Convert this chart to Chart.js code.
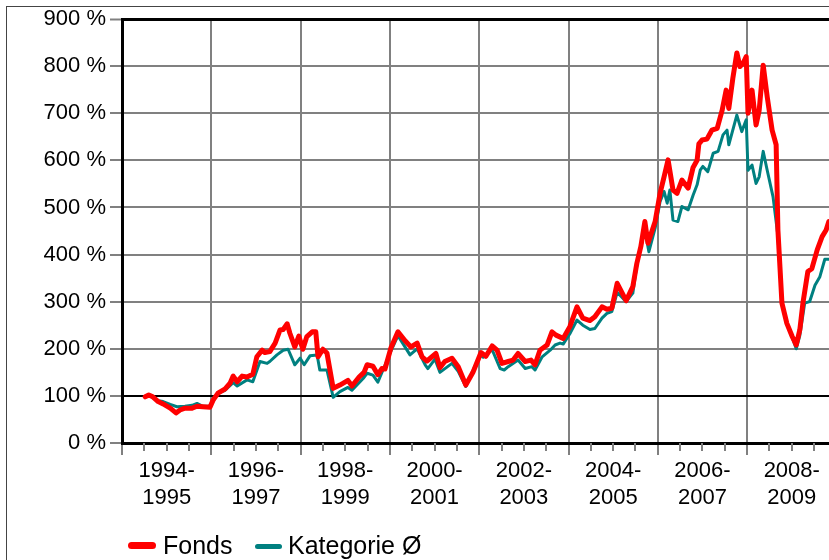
<!DOCTYPE html>
<html>
<head>
<meta charset="utf-8">
<script src="https://cdn.jsdelivr.net/npm/chart.js@4/dist/chart.umd.min.js"></script>
<style>
  html, body { margin: 0; padding: 0; background: #fff; overflow: hidden; }
  #wrap { position: relative; width: 829px; height: 560px; overflow: hidden; }
  #frame { position: absolute; left: 6px; top: 6px; width: 1000px; height: 1000px; border: 1px solid #444; box-sizing: border-box; }
  #c { position: absolute; left: 0; top: 0; }
  .leg { position: absolute; top: 0; left: 0; font-family: Arial, "Liberation Sans", sans-serif; font-size: 25px; color: #000; }
  .sw { position: absolute; }
  .lt { position: absolute; white-space: nowrap; line-height: 25px; }
</style>
</head>
<body>
<div id="wrap">
  <div id="frame"></div>
  <canvas id="c" width="829" height="560"></canvas>
  <div class="leg">
    <div class="sw" style="left:128px;top:542px;width:28px;height:7px;border-radius:4px;background:#ff0000"></div>
    <div class="lt" style="left:163px;top:533px">Fonds</div>
    <div class="sw" style="left:255px;top:543.5px;width:27px;height:5px;border-radius:3px;background:#008080"></div>
    <div class="lt" style="left:288px;top:533px">Kategorie Ø</div>
  </div>
</div>
<script>
// ---- Data ----
const seriesNames = ['Fonds', 'Kategorie Ø'];

const fondsYears = [1994.52,1994.60,1994.69,1994.81,1994.92,1995.08,1995.21,1995.30,1995.41,1995.57,1995.68,1995.81,1995.97,
  1996.04,1996.15,1996.31,1996.42,1996.49,1996.58,1996.69,1996.80,1996.93,1997.02,1997.14,1997.20,1997.31,1997.43,1997.54,
  1997.61,1997.70,1997.76,1997.87,1997.96,1998.05,1998.14,1998.26,1998.34,1998.39,1998.50,1998.59,1998.73,1998.88,1999.06,
  1999.15,1999.31,1999.42,1999.49,1999.62,1999.73,1999.82,1999.89,2000.02,2000.18,2000.34,2000.47,2000.61,2000.72,2000.83,
  2001.03,2001.12,2001.23,2001.39,2001.53,2001.70,2001.86,2002.04,2002.15,2002.29,2002.40,2002.51,2002.65,2002.76,2002.87,
  2003.03,2003.16,2003.25,2003.36,2003.52,2003.63,2003.72,2003.88,2004.03,2004.19,2004.32,2004.48,2004.59,2004.75,2004.86,
  2004.97,2005.09,2005.29,2005.44,2005.53,2005.62,2005.71,2005.78,2005.94,2006.05,2006.14,2006.23,2006.34,2006.43,2006.54,
  2006.68,2006.79,2006.88,2006.92,2006.99,2007.10,2007.21,2007.33,2007.44,2007.53,2007.59,2007.68,2007.77,2007.84,2007.91,
  2007.98,2008.02,2008.11,2008.20,2008.27,2008.36,2008.45,2008.56,2008.65,2008.69,2008.78,2008.89,2009.01,2009.10,2009.18,
  2009.25,2009.36,2009.45,2009.57,2009.68,2009.77,2009.83];
const fondsValues = [98,102,98,88,83,74,64,70,74,74,78,77,76,
  91,106,115,127,142,130,142,140,146,183,197,192,194,212,240,
  241,253,233,204,227,199,226,236,236,183,199,191,116,123,133,
  121,140,150,166,163,145,158,157,201,236,217,204,212,183,174,
  190,160,173,180,162,123,150,192,184,206,197,169,173,176,190,
  173,176,166,197,208,236,229,222,247,289,265,260,268,289,284,
  286,339,302,332,381,417,470,424,470,530,565,601,537,530,558,
  541,585,600,635,643,645,664,668,706,749,710,774,828,799,806,
  820,700,749,675,706,802,735,664,633,452,297,254,226,208,240,
  297,364,370,410,438,452,470];

const kategorieYears = [1994.52,1994.60,1994.81,1994.92,1995.08,1995.23,1995.41,1995.57,1995.68,1995.81,1995.97,
  1996.15,1996.31,1996.49,1996.58,1996.80,1996.93,1997.09,1997.25,1997.31,1997.47,1997.61,1997.72,1997.87,1997.99,
  1998.08,1998.21,1998.37,1998.43,1998.59,1998.73,1998.88,1999.06,1999.15,1999.40,1999.49,1999.62,1999.73,2000.00,
  2000.18,2000.45,2000.61,2000.79,2000.85,2001.01,2001.12,2001.39,2001.53,2001.70,2002.02,2002.09,2002.29,2002.47,
  2002.56,2002.65,2002.87,2003.03,2003.18,2003.25,2003.41,2003.59,2003.70,2003.81,2003.88,2004.03,2004.19,2004.32,
  2004.48,2004.59,2004.75,2004.86,2004.97,2005.09,2005.29,2005.44,2005.53,2005.71,2005.80,2005.94,2006.05,2006.14,
  2006.21,2006.27,2006.34,2006.45,2006.54,2006.68,2006.79,2006.88,2006.95,2007.01,2007.12,2007.24,2007.35,2007.46,
  2007.55,2007.59,2007.77,2007.88,2007.98,2008.02,2008.11,2008.20,2008.27,2008.36,2008.45,2008.58,2008.69,2008.78,
  2008.89,2009.01,2009.10,2009.18,2009.29,2009.40,2009.52,2009.63,2009.74,2009.83];
const kategorieValues = [98,101,90,88,82,77,78,80,84,78,78,
  106,112,128,121,134,130,173,169,173,187,197,199,166,180,
  166,185,187,155,155,97,109,118,112,137,148,144,129,190,
  228,187,200,166,158,178,150,169,152,120,187,182,198,158,
  155,162,176,158,162,155,183,197,208,212,210,232,261,250,
  241,243,265,275,279,320,300,318,378,452,406,456,512,534,
  509,537,473,470,502,495,526,548,579,587,576,615,619,654,
  664,633,696,661,686,579,590,551,565,619,579,523,440,295,
  252,224,200,228,297,300,335,353,390,390];

const periodLabels = [['1994-','1995'],['1996-','1997'],['1998-','1999'],['2000-','2001'],
  ['2002-','2003'],['2004-','2005'],['2006-','2007'],['2008-','2009']];
const firstYear = 1994;
const yTicks = [0,100,200,300,400,500,600,700,800,900];

// ---- Chart ----
const FONT = 'Arial, "Liberation Sans", sans-serif';
const GRID = '#808080';
const xMax = 2009.834;

function isMajor(v){ return Math.abs(v - Math.round(v)) < 1e-6 && Math.round(v) % 2 === 0; }

const minorTicks = {
  id: 'minorTicks',
  afterDraw(chart) {
    const sx = chart.scales.x, ctx = chart.ctx;
    const y0 = chart.chartArea.bottom;
    ctx.save();
    ctx.strokeStyle = GRID;
    ctx.lineWidth = 2;
    sx.ticks.forEach(t => {
      if (isMajor(t.value)) return;
      const px = Math.round(sx.getPixelForValue(t.value));
      ctx.beginPath();
      ctx.moveTo(px, y0);
      ctx.lineTo(px, y0 + 8);
      ctx.stroke();
    });
    ctx.restore();
  }
};

new Chart(document.getElementById('c'), {
  type: 'line',
  data: {
    datasets: [
      {
        label: seriesNames[0],
        data: fondsYears.map((t, i) => ({ x: t, y: fondsValues[i] })),
        borderColor: '#ff0000',
        borderWidth: 5,
        pointRadius: 0,
        tension: 0,
        borderJoinStyle: 'round',
        borderCapStyle: 'round'
      },
      {
        label: seriesNames[1],
        data: kategorieYears.map((t, i) => ({ x: t, y: kategorieValues[i] })),
        borderColor: '#008080',
        borderWidth: 3,
        pointRadius: 0,
        tension: 0,
        borderJoinStyle: 'round',
        borderCapStyle: 'round'
      }
    ]
  },
  options: {
    responsive: false,
    devicePixelRatio: 1,
    animation: false,
    layout: { padding: { top: 19, left: 0, right: 0, bottom: 47 } },
    plugins: { legend: { display: false }, tooltip: { enabled: false } },
    scales: {
      x: {
        type: 'linear',
        min: firstYear,
        max: xMax,
        afterBuildTicks(scale) {
          const arr = [];
          for (let v = firstYear; v < xMax; v += 0.5) arr.push({ value: v });
          scale.ticks = arr;
        },
        afterFit(scale) { scale.height = 70; },
        border: { display: true, color: '#000', width: 3 },
        grid: {
          color: ctx => (ctx.tick && isMajor(ctx.tick.value) && ctx.tick.value > firstYear) ? GRID : 'rgba(0,0,0,0)',
          lineWidth: 2,
          tickColor: ctx => (ctx.tick && isMajor(ctx.tick.value)) ? GRID : 'rgba(0,0,0,0)',
          tickLength: 12,
          tickWidth: 2
        },
        ticks: {
          autoSkip: false,
          maxRotation: 0,
          minRotation: 0,
          padding: 3,
          color: '#000',
          font: { family: FONT, size: 22 },
          callback(value) {
            const d = value - firstYear;
            if (Math.abs(d - Math.round(d)) < 1e-6 && Math.round(d) % 2 === 1) {
              const idx = (Math.round(d) - 1) / 2;
              return periodLabels[idx] || '';
            }
            return '';
          }
        }
      },
      y: {
        min: 0,
        max: 900,
        afterBuildTicks(scale) { scale.ticks = yTicks.map(v => ({ value: v })); },
        afterFit(scale) { scale.width = 122; },
        border: { display: true, color: '#000', width: 3 },
        grid: {
          color: ctx => {
            const v = ctx.tick ? ctx.tick.value : null;
            if (v === 100 || v === 900) return '#000';
            if (v === 0) return 'rgba(0,0,0,0)';
            return GRID;
          },
          lineWidth: ctx => (ctx.tick && ctx.tick.value === 900) ? 3 : 2,
          tickColor: GRID,
          tickLength: 12,
          tickWidth: 2
        },
        ticks: {
          padding: 4,
          color: '#000',
          font: { family: FONT, size: 22 },
          callback: v => v + ' %'
        }
      }
    }
  },
  plugins: [minorTicks]
});
</script>
</body>
</html>
